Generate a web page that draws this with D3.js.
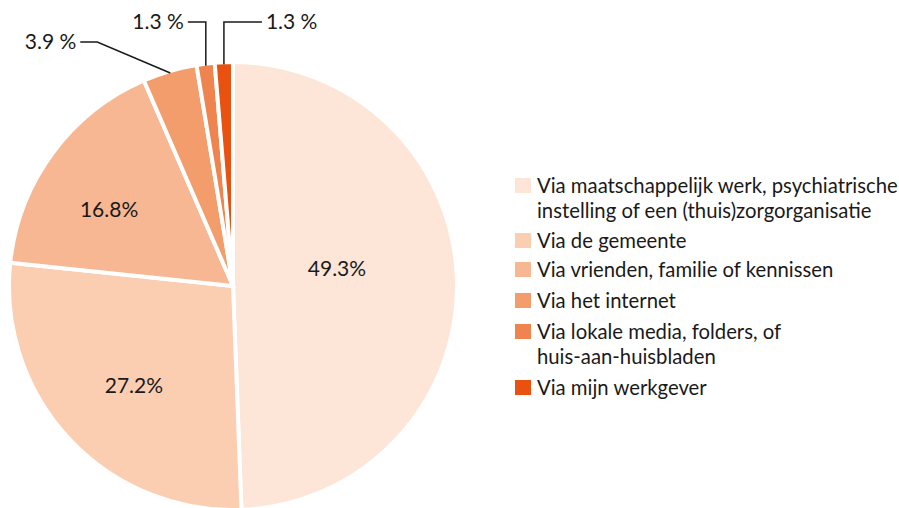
<!DOCTYPE html>
<html>
<head>
<meta charset="utf-8">
<script src="https://cdn.jsdelivr.net/npm/d3@7"></script>
<style>
  html, body { margin: 0; padding: 0; background: #fff; }
  svg { display: block; }
  text { font-family: Lato, "Open Sans", sans-serif; fill: #1a1a1a; }
</style>
</head>
<body>
<svg id="chart" width="899" height="508"></svg>
<script>
const categories = [
  ["Via maatschappelijk werk, psychiatrische", "instelling of een (thuis)zorgorganisatie"],
  ["Via de gemeente"],
  ["Via vrienden, familie of kennissen"],
  ["Via het internet"],
  ["Via lokale media, folders, of", "huis-aan-huisbladen"],
  ["Via mijn werkgever"]
];
const values = [49.3, 27.2, 16.8, 3.9, 1.3, 1.3];
const valueLabels = ["49.3%", "27.2%", "16.8%", "3.9 %", "1.3 %", "1.3 %"];
const colors = ["#FDE5D8", "#FBCDB1", "#F7B792", "#F49D6C", "#EF844E", "#E8510F"];

const svg = d3.select("#chart");
const cx = 233, cy = 286, R = 224;

const pie = d3.pie().sort(null).value(d => d);
const arcs = pie(values);
const arc = d3.arc().innerRadius(0).outerRadius(R);

const g = svg.append("g").attr("transform", `translate(${cx},${cy})`);
g.selectAll("path.slice").data(arcs).join("path")
  .attr("class", "slice")
  .attr("d", arc)
  .attr("fill", (d, i) => colors[i])
  .attr("stroke", "#fff")
  .attr("stroke-width", 4)
  .attr("stroke-linejoin", "miter");

// inner labels for large slices (radius fraction, angle shift in radians)
const inner = arcs.filter(d => d.data > 10);
g.selectAll("text.inner").data(inner).join("text")
  .attr("class", "inner")
  .attr("transform", d => {
    const big = d.data > 40;
    const small = d.data < 20;
    const rr = big ? R * 0.47 : (small ? R * 0.65 : R * 0.63);
    const a = (d.startAngle + d.endAngle) / 2 + (big ? -0.14 : (small ? -0.08 : -0.04));
    return `translate(${rr * Math.sin(a)},${-rr * Math.cos(a) + 7})`;
  })
  .attr("text-anchor", "middle")
  .attr("font-size", 21)
  .text(d => valueLabels[d.index]);

// outer labels with leader lines for small slices
const outer = arcs.filter(d => d.data < 10);
const outerY = [42, 22, 22];
const outerDir = [-1, -1, 1];
outer.forEach((d, k) => {
  const a = (d.startAngle + d.endAngle) / 2;
  const px = (R - 2) * Math.sin(a), py = -(R - 2) * Math.cos(a);
  const ly = outerY[k] - cy;
  const dir = outerDir[k];
  let pts;
  if (k === 0) {
    pts = [[px, py], [px - 73, ly], [px - 90, ly]];
  } else if (dir < 0) {
    pts = [[px, py], [px, ly], [px - 18, ly]];
  } else {
    pts = [[px, py], [px, ly], [px + 38, ly]];
  }
  g.append("path")
    .attr("d", d3.line()(pts))
    .attr("fill", "none")
    .attr("stroke", "#1a1a1a")
    .attr("stroke-width", 1.5);
  const last = pts[pts.length - 1];
  g.append("text")
    .attr("x", last[0] + dir * 4)
    .attr("y", ly + 7)
    .attr("text-anchor", dir < 0 ? "end" : "start")
    .attr("font-size", 21)
    .text(valueLabels[d.index]);
});

// legend
const legend = svg.append("g").attr("transform", "translate(515,0)");
const rowY = [178, 233, 262, 293, 324, 380];
categories.forEach((lines, i) => {
  legend.append("rect")
    .attr("x", 0).attr("y", rowY[i])
    .attr("width", 16).attr("height", 15)
    .attr("fill", colors[i]);
  const t = legend.append("text")
    .attr("x", 22).attr("y", rowY[i] + 15)
    .attr("font-size", 20.3);
  lines.forEach((ln, j) => {
    t.append("tspan").attr("x", 22).attr("dy", j === 0 ? 0 : 25).text(ln);
  });
});
</script>
</body>
</html>
